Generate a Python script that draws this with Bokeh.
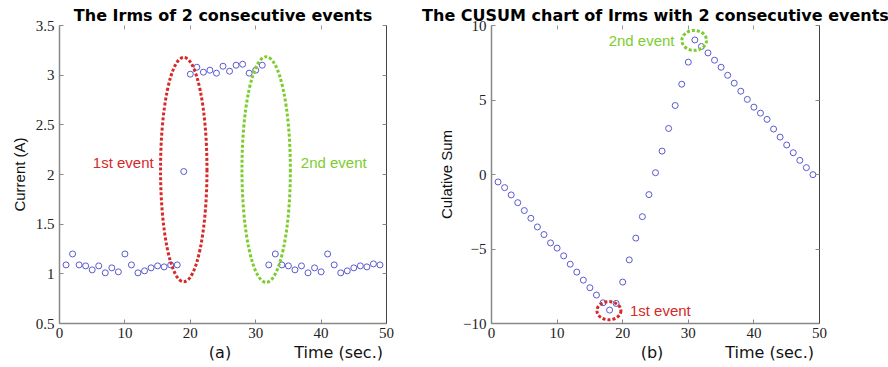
from bokeh.plotting import figure
from bokeh.layouts import row, column
from bokeh.models import Range1d, FixedTicker, LinearAxis, Label, CustomJSTickFormatter, Div
from bokeh.embed import file_html
from bokeh.resources import INLINE

# ---------------- data ----------------
time_s = list(range(1, 50))
irms = [1.09, 1.20, 1.09, 1.08, 1.04, 1.08, 1.01, 1.06, 1.02, 1.20,
        1.09, 1.01, 1.03, 1.06, 1.08, 1.07, 1.09, 1.09, 2.03, 3.01,
        3.08, 3.03, 3.05, 3.02, 3.09, 3.04, 3.10, 3.11, 3.02, 3.05,
        3.10, 1.09, 1.20, 1.09, 1.08, 1.04, 1.08, 1.01, 1.06, 1.02,
        1.20, 1.09, 1.01, 1.03, 1.06, 1.08, 1.07, 1.10, 1.09]
cusum = [-0.50, -0.88, -1.37, -1.89, -2.42, -2.94, -3.52, -4.03, -4.59, -4.94,
         -5.46, -6.02, -6.55, -7.09, -7.60, -8.09, -8.61, -9.10, -8.65, -7.22,
         -5.73, -4.27, -2.83, -1.35, 0.12, 1.57, 3.09, 4.63, 6.06, 7.54,
         9.03, 8.59, 8.16, 7.67, 7.20, 6.66, 6.13, 5.59, 5.04, 4.52,
         4.12, 3.70, 3.05, 2.51, 1.98, 1.46, 0.95, 0.46, -0.01]

x_ticks = [0, 10, 20, 30, 40, 50]
irms_ticks = [0.5, 1, 1.5, 2, 2.5, 3, 3.5]
cusum_ticks = [-10, -5, 0, 5, 10]

# event markers (centre x, centre y, width, height)
a_ev_x = [19.0, 31.6]
a_ev_y = [2.05, 2.05]
a_ev_w = [7.1, 7.4]
a_ev_h = [2.26, 2.27]
b_ev_x = [17.9, 30.9]
b_ev_y = [-9.14, 9.0]
b_ev_w = [3.66, 3.76]
b_ev_h = [1.22, 1.34]
ev_colors = ["#d42a2a", "#7ccc2e"]
ev_names = ["1st event", "2nd event"]

titles = ["The Irms of 2 consecutive events",
          "The CUSUM chart of Irms with 2 consecutive events"]
ylabels = ["Current (A)", "Culative Sum"]
panel_tags = ["(a)", "(b)"]
xlabel = "Time (sec.)"

SERIF = "Liberation Serif"
SANS = "Liberation Sans"
WIDE = "DejaVu Sans"

fmt = CustomJSTickFormatter(code="return tick < 0 ? '\\u2212' + Math.abs(tick) : String(tick);")


def style_axes(p, yticks, title, ylabel):
    p.outline_line_color = None
    p.xgrid.visible = False
    p.ygrid.visible = False
    for ax in (p.xaxis[0], p.yaxis[0]):
        ax.axis_line_color = "#888888"
        ax.axis_line_width = 1.5
        ax.major_tick_in = 4
        ax.major_tick_out = 0
        ax.major_tick_line_color = "#888888"
        ax.minor_tick_line_color = None
        ax.major_label_text_font = SERIF
        ax.major_label_text_font_size = "15px"
        ax.major_label_text_color = "#222222"
        ax.formatter = fmt
    p.xaxis[0].ticker = FixedTicker(ticks=x_ticks)
    p.yaxis[0].ticker = FixedTicker(ticks=yticks)
    p.xaxis[0].major_label_standoff = 4
    p.yaxis[0].major_label_standoff = 5
    p.yaxis[0].axis_label = ylabel
    p.yaxis[0].axis_label_text_font = SANS
    p.yaxis[0].axis_label_text_font_size = "15px"
    p.yaxis[0].axis_label_text_font_style = "normal"
    p.yaxis[0].axis_label_text_color = "#111111"
    p.yaxis[0].axis_label_standoff = 5

    right = LinearAxis(ticker=FixedTicker(ticks=yticks), major_label_text_font_size="0px",
                       major_label_text_color=None,
                       major_label_standoff=0, major_tick_in=4, major_tick_out=0,
                       minor_tick_line_color=None, axis_line_color="#444444",
                       major_tick_line_color="#888888")
    p.add_layout(right, "right")
    top = LinearAxis(ticker=FixedTicker(ticks=x_ticks), major_label_text_font_size="0px",
                     major_label_text_color=None,
                     major_label_standoff=0, major_tick_in=4, major_tick_out=0,
                     minor_tick_line_color=None, axis_line_color=None,
                     major_tick_line_color="#999999")
    p.add_layout(top, "above")

    p.title.text = title
    p.title.align = "center"
    p.title.text_font = WIDE
    p.title.text_font_size = "16px"
    p.title.text_font_style = "bold"
    p.title.text_color = "#000000"
    p.title.standoff = 2


def bottom_div(width, tag_center, label_right, tag):
    html = (
        f'<div style="position:relative;width:{width}px;height:23px;'
        f'font-family:\'DejaVu Sans\';font-size:16px;color:#111111;line-height:18px;">'
        f'<span style="position:absolute;left:{tag_center}px;top:0px;transform:translateX(-50%);white-space:nowrap;">{tag}</span>'
        f'<span style="position:absolute;right:{width - label_right}px;top:0px;white-space:nowrap;">{xlabel}</span>'
        f'</div>'
    )
    return Div(text=html, width=width, height=23, margin=0)


# ---------------- left panel ----------------
pa = figure(width=416, height=344, output_backend="svg", toolbar_location=None,
            x_range=Range1d(0, 50), y_range=Range1d(0.5, 3.5),
            min_border_left=59, min_border_right=30, min_border_top=25, min_border_bottom=21)
style_axes(pa, irms_ticks, titles[0], ylabels[0])
pa.scatter(time_s, irms, marker="circle", size=6, fill_color=None,
           line_color="#5a5ad0", line_width=1)
pa.ellipse(a_ev_x, a_ev_y, width=a_ev_w, height=a_ev_h, fill_color=None,
           line_color=ev_colors, line_width=3, line_dash="3 2")
pa.add_layout(Label(x=14.4, y=2.12, text=ev_names[0], text_align="right", text_baseline="middle",
                    text_font=SANS, text_font_size="15px", text_color=ev_colors[0]))
pa.add_layout(Label(x=36.9, y=2.12, text=ev_names[1], text_align="left", text_baseline="middle",
                    text_font=SANS, text_font_size="15px", text_color=ev_colors[1]))

# ---------------- right panel ----------------
pb = figure(width=472, height=344, output_backend="svg", toolbar_location=None,
            x_range=Range1d(0, 50), y_range=Range1d(-10, 10),
            min_border_left=75, min_border_right=69, min_border_top=25, min_border_bottom=21)
style_axes(pb, cusum_ticks, titles[1], ylabels[1])
pb.scatter(time_s, cusum, marker="circle", size=6, fill_color=None,
           line_color="#5a5ad0", line_width=1)
pb.ellipse(b_ev_x, b_ev_y, width=b_ev_w, height=b_ev_h, fill_color=None,
           line_color=ev_colors, line_width=3, line_dash="3 2")
pb.add_layout(Label(x=21.1, y=-9.1, text=ev_names[0], text_align="left", text_baseline="middle",
                    text_font=SANS, text_font_size="15px", text_color=ev_colors[0]))
pb.add_layout(Label(x=27.9, y=9.0, text=ev_names[1], text_align="right", text_baseline="middle",
                    text_font=SANS, text_font_size="15px", text_color=ev_colors[1]))

da = bottom_div(416, 220, 383, panel_tags[0])
db = bottom_div(472, 652 - 416, 814 - 416, panel_tags[1])

layout = row(column(pa, da, spacing=0), column(pb, db, spacing=0), spacing=0)
open("out.html", "w").write(file_html(layout, INLINE))
